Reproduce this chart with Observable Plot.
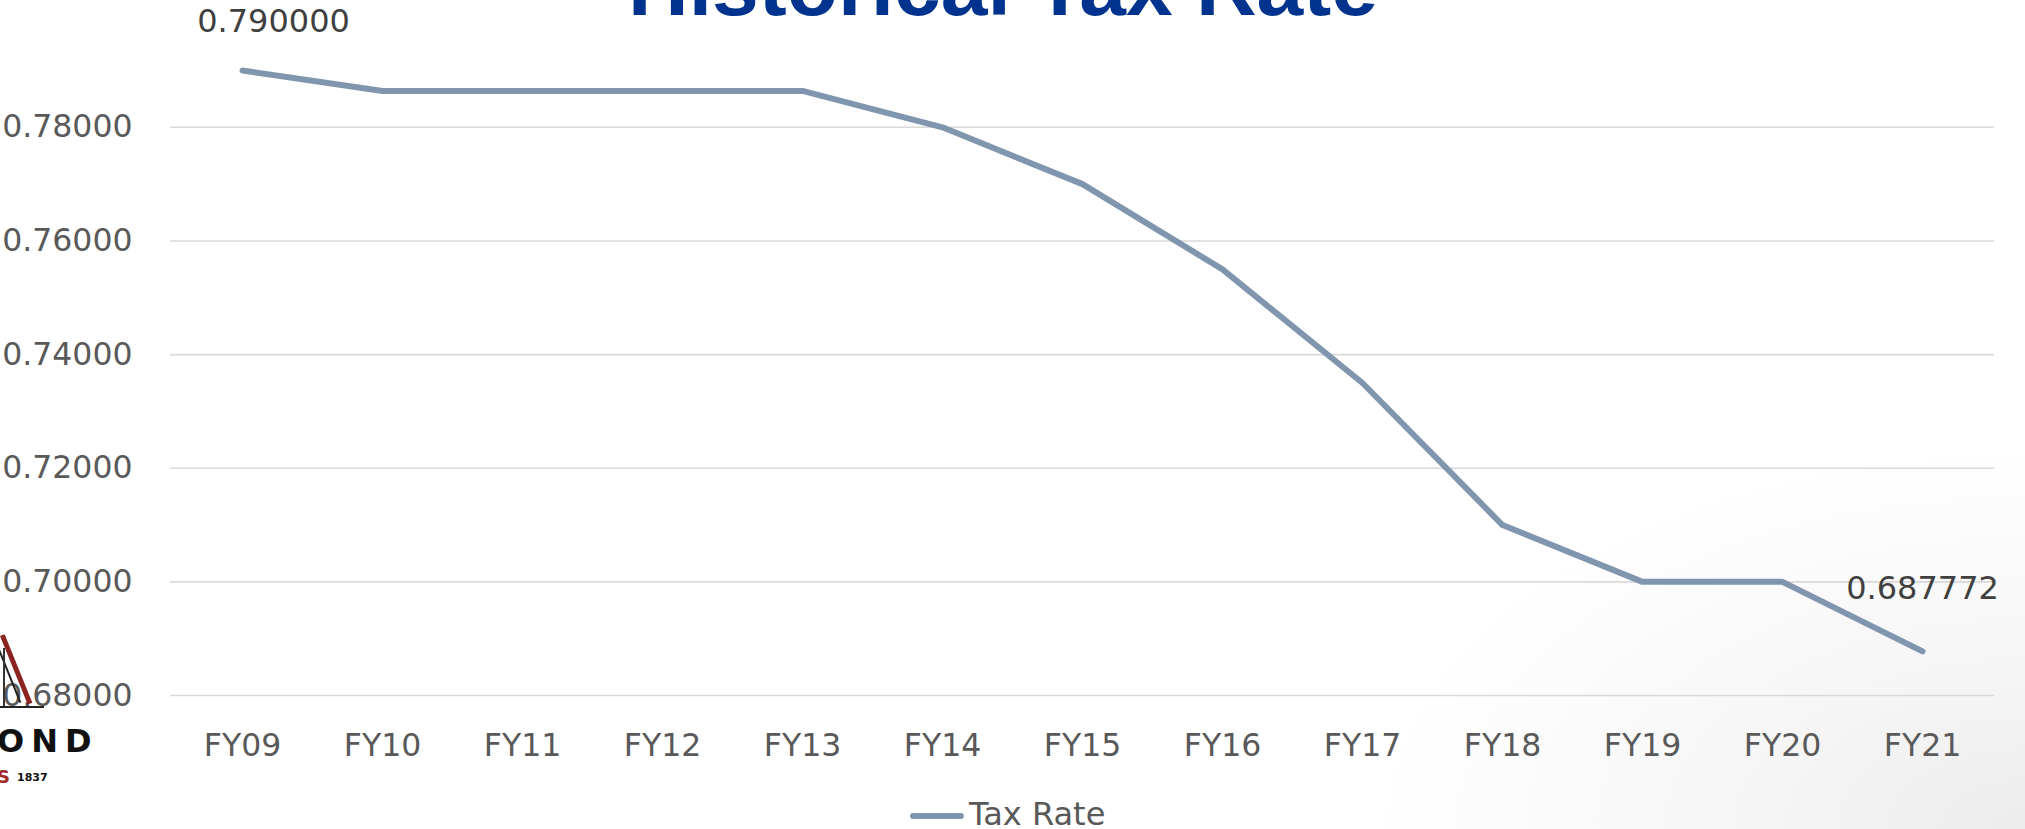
<!DOCTYPE html>
<html>
<head>
<meta charset="utf-8">
<script src="https://cdn.jsdelivr.net/npm/d3@7"></script>
<script src="https://cdn.jsdelivr.net/npm/@observablehq/plot@0.6"></script>
<style>
  html, body { margin: 0; padding: 0; width: 2025px; height: 829px; overflow: hidden; }
  body {
    position: relative;
    background: radial-gradient(ellipse 650px 380px at 100% 100%, #ececec 0%, #f6f6f6 45%, #ffffff 100%);
    font-family: "DejaVu Sans", sans-serif;
  }
  #title {
    position: absolute; left: 0; top: -56px; width: 2006px; text-align: center;
    font-family: "Liberation Sans", Arial, sans-serif; font-weight: bold;
    font-size: 84px; line-height: 84px; color: #00338D; white-space: nowrap;
  }
  #chart { position: absolute; left: 0; top: 0; }
  #legend {
    position: absolute; left: 910px; top: 796px; height: 36px;
    display: flex; align-items: center; gap: 5px;
    font-size: 32px; color: #595959; white-space: nowrap;
  }
  #legend .sw { width: 54px; height: 6px; border-radius: 3px; background: #7F96AE; margin-top: 4px; }
</style>
</head>
<body>
<div id="title">Historical Tax Rate</div>
<div id="chart"></div>
<div id="logo-wrap"></div>
<div id="legend"><span class="sw"></span><span>Tax Rate</span></div>
<script>
// ---- data ----
const years = ["FY09","FY10","FY11","FY12","FY13","FY14","FY15","FY16","FY17","FY18","FY19","FY20","FY21"];
const taxRate = [0.79, 0.7864, 0.7864, 0.7864, 0.7864, 0.78, 0.77, 0.755, 0.735, 0.71, 0.70, 0.70, 0.687772];
const yTicks = [0.68, 0.70, 0.72, 0.74, 0.76, 0.78];
const seriesName = "Tax Rate";

const rows = years.map((y, i) => ({year: y, value: taxRate[i]}));
const firstRow = [rows[0]];
const lastRow = [rows[rows.length - 1]];

const chart = Plot.plot({
  width: 2025,
  height: 760,
  marginLeft: 170,
  marginRight: 31,
  marginTop: 70,
  marginBottom: 65,
  style: {background: "transparent", fontFamily: "DejaVu Sans, sans-serif", overflow: "visible"},
  x: {type: "point", domain: years, padding: 0.5},
  y: {domain: [0.68, 0.79]},
  marks: [
    Plot.gridY(yTicks, {stroke: "#D9D9D9", strokeOpacity: 1, strokeWidth: 1.6}),
    Plot.axisY(yTicks, {tickSize: 0, tickPadding: 38, tickFormat: d3.format(".5f"), fontSize: 31.5, fill: "#595959", label: null}),
    Plot.axisX({tickSize: 0, tickPadding: 38, fontSize: 31.5, fill: "#595959", label: null}),
    Plot.line(rows, {x: "year", y: "value", stroke: "#7F96AE", strokeWidth: 6, strokeLinecap: "round", strokeLinejoin: "round"}),
    Plot.text(firstRow, {x: "year", y: "value", text: d => d3.format(".6f")(d.value), dx: 31, dy: -49, fontSize: 32, fill: "#404040", lineAnchor: "middle"}),
    Plot.text(lastRow, {x: "year", y: "value", text: d => d3.format(".6f")(d.value), dx: 0, dy: -63, fontSize: 32, fill: "#404040", lineAnchor: "middle"})
  ]
});
document.getElementById("chart").appendChild(chart);

// decorative partial logo (bottom-left corner)
const logo = document.getElementById("logo-wrap");
logo.innerHTML = `
  <div style="position:absolute;left:0px;top:636px;width:5px;height:74px;background:#8b2323;transform:rotate(-22deg);transform-origin:top left;"></div>
  <div style="position:absolute;left:-6px;top:640px;width:1.5px;height:68px;background:#222;transform:rotate(-22deg);transform-origin:top left;"></div>
  <div style="position:absolute;left:3px;top:648px;width:1.5px;height:59px;background:#333;"></div>
  <div style="position:absolute;left:0px;top:706px;width:44px;height:2px;background:#222;"></div>
  <div style="position:absolute;left:-3px;top:722px;font-family:'DejaVu Sans';font-weight:bold;font-size:32px;letter-spacing:7px;color:#111;">OND</div>
  <div style="position:absolute;left:-3px;top:766px;font-family:'DejaVu Sans';font-weight:bold;font-size:18px;color:#a32a2a;">S</div>
  <div style="position:absolute;left:17px;top:771px;font-family:'DejaVu Sans';font-weight:bold;font-size:11px;color:#111;">1837</div>
`;
</script>
</body>
</html>
